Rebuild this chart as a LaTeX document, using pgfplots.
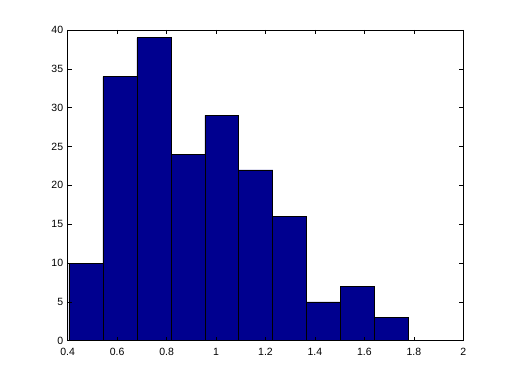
\documentclass[border=0pt]{standalone}
\usepackage{pgfplots}
\pgfplotsset{compat=1.18}
\usepackage{fontspec}
\setmainfont{Liberation Sans}
\definecolor{barblue}{RGB}{0,0,143}
\begin{document}
\begin{tikzpicture}[x=1pt,y=1pt]
\useasboundingbox[fill=white] (0,0) rectangle (512,383);
\begin{axis}[
  at={(67.7pt,42.3pt)}, anchor=south west,
  scale only axis, width=395.6pt, height=310.7pt,
  xmin=0.4, xmax=2, ymin=0, ymax=40,
  xtick={0.4,0.6,...,2.01}, ytick={0,5,...,40},
  xticklabels={0.4,0.6,0.8,1,1.2,1.4,1.6,1.8,2},
  tick align=inside, tick pos=both,
  major tick length=4pt,
  tick style={black, line width=0.5pt},
  axis line style={line width=0.6pt},
  ticklabel style={font=\fontsize{10.5}{12}\selectfont},
  /pgf/number format/assume math mode=true,
  xticklabel style={yshift=-4pt},
  yticklabel style={xshift=-1pt},
  axis on top,
]
\addplot[ybar interval, fill=barblue, draw=black, line width=0.6pt] coordinates {
(0.4045,10) (0.5420,34) (0.6795,39) (0.8170,24) (0.9545,29) (1.0920,22) (1.2295,16) (1.3670,5) (1.5045,7) (1.6420,3) (1.7795,3)
};
\end{axis}
\end{tikzpicture}
\end{document}
